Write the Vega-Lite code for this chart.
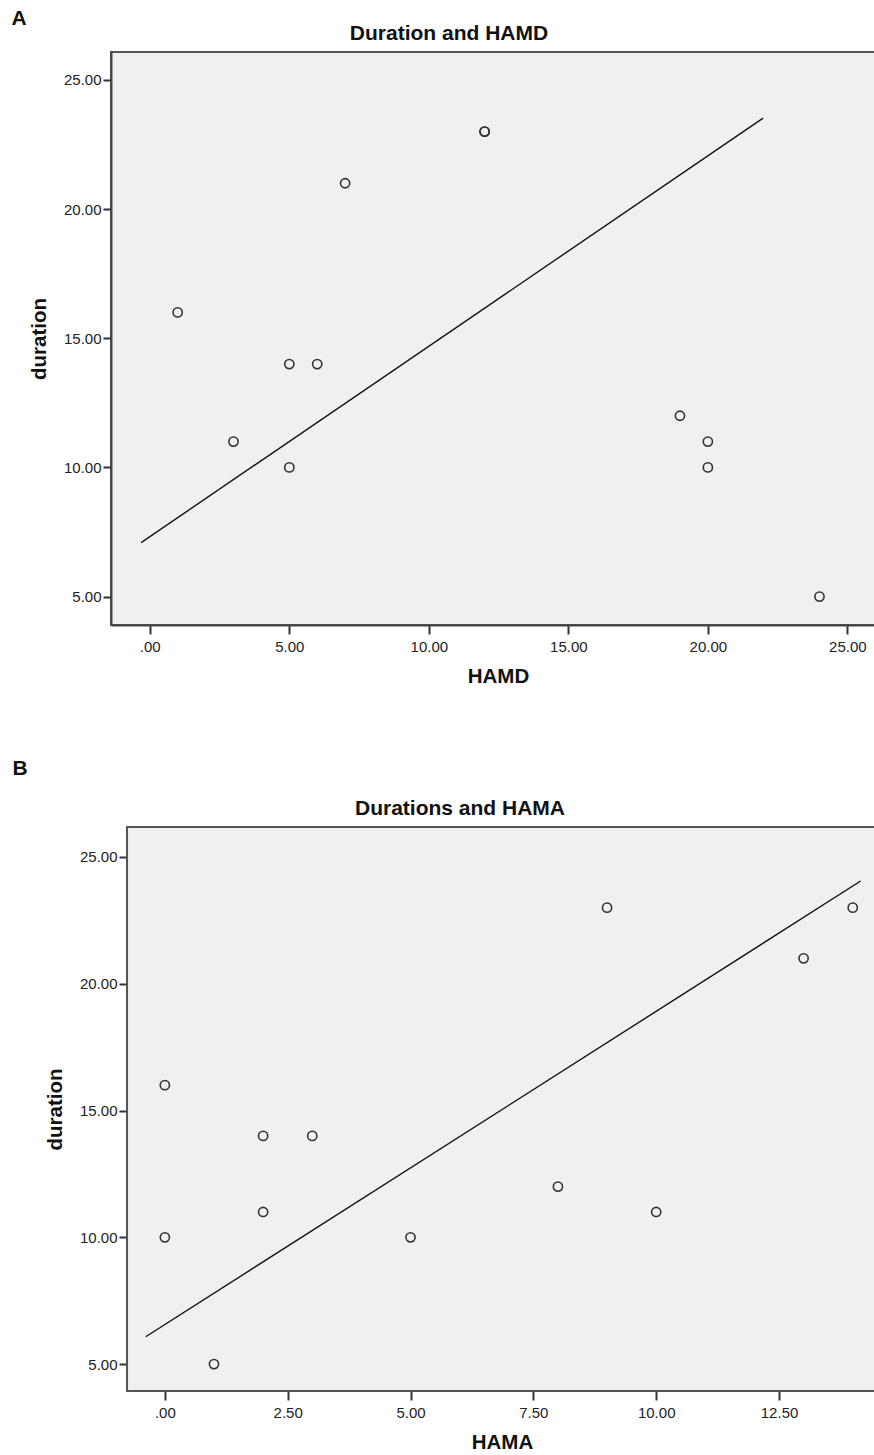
{
  "$schema": "https://vega.github.io/schema/vega-lite/v6.json",
  "padding": {"left": 11, "top": 8, "right": 0, "bottom": 0},
  "background": "white",
  "config": {
    "font": "Liberation Sans",
    "view": {"stroke": "#555555", "strokeWidth": 2, "fill": "#f0f0f0"},
    "axis": {
      "labelFont": "Liberation Sans", "labelFontSize": 15, "labelColor": "#222222",
      "titleFont": "Liberation Sans", "titleFontSize": 20.5, "titleFontWeight": "bold", "titleColor": "#111111",
      "domainColor": "#444444", "domainWidth": 2, "tickColor": "#333333", "tickWidth": 2, "tickSize": 8,
      "grid": false, "labelPadding": 2
    },
    "title": {"font": "Liberation Sans", "fontSize": 21, "fontWeight": "bold", "color": "#111111"}
  },
  "datasets": {
    "hamd": [
      {"HAMD": 1, "duration": 16}, {"HAMD": 3, "duration": 11}, {"HAMD": 5, "duration": 14},
      {"HAMD": 5, "duration": 10}, {"HAMD": 6, "duration": 14}, {"HAMD": 7, "duration": 21},
      {"HAMD": 12, "duration": 23}, {"HAMD": 12, "duration": 23}, {"HAMD": 19, "duration": 12},
      {"HAMD": 20, "duration": 11}, {"HAMD": 20, "duration": 10}, {"HAMD": 24, "duration": 5}
    ],
    "hamdFit": [
      {"HAMD": -0.31, "duration": 7.09}, {"HAMD": 21.98, "duration": 23.52}
    ],
    "hama": [
      {"HAMA": 0, "duration": 16}, {"HAMA": 0, "duration": 10}, {"HAMA": 1, "duration": 5},
      {"HAMA": 2, "duration": 14}, {"HAMA": 2, "duration": 11}, {"HAMA": 3, "duration": 14},
      {"HAMA": 5, "duration": 10}, {"HAMA": 8, "duration": 12}, {"HAMA": 9, "duration": 23},
      {"HAMA": 10, "duration": 11}, {"HAMA": 13, "duration": 21}, {"HAMA": 14, "duration": 23}
    ],
    "hamaFit": [
      {"HAMA": -0.39, "duration": 6.08}, {"HAMA": 14.16, "duration": 24.05}
    ],
    "panelB": [
      {"panel": "B"}
    ]
  },
  "spacing": 70,
  "vconcat": [
    {
      "title": {"text": "A", "anchor": "start", "frame": "bounds", "dx": -17, "offset": -7},
      "vconcat": [
        {
          "width": 800, "height": 573,
          "title": {"text": "Duration and HAMD", "dx": -62, "offset": 8},
          "encoding": {
            "x": {"field": "HAMD", "type": "quantitative",
                  "scale": {"domain": [-1.39, 27.28], "nice": false, "zero": false},
                  "axis": {"values": [0, 5, 10, 15, 20, 25], "titlePadding": 12, "tickSize": 9, "labelPadding": 5, "titleX": 387,
                           "labelExpr": "datum.value == 0 ? '.00' : format(datum.value, '.2f')"}},
            "y": {"field": "duration", "type": "quantitative",
                  "scale": {"domain": [3.9, 26.08], "nice": false, "zero": false},
                  "axis": {"values": [5, 10, 15, 20, 25], "titlePadding": 14, "format": ".2f"}}
          },
          "layer": [
            {"data": {"name": "hamdFit"}, "mark": {"type": "line", "color": "#111111", "strokeWidth": 1.4}},
            {"data": {"name": "hamd"}, "mark": {"type": "point", "shape": "circle", "filled": false, "color": "#333333", "strokeWidth": 1.6, "size": 85, "opacity": 1}}
          ]
        }
      ]
    },
    {
      "title": {"text": "B", "anchor": "start", "frame": "bounds", "dx": -33, "offset": 19},
      "vconcat": [
        {
          "width": 784, "height": 564,
          "view": {"stroke": null, "fill": null},
          "title": {"text": "Durations and HAMA", "dx": -43, "offset": 7},
          "layer": [
            {"data": {"name": "panelB"},
             "mark": {"type": "rect", "fill": "#f0f0f0", "stroke": "#555555", "strokeWidth": 2},
             "encoding": {
               "x": {"datum": -0.77, "type": "quantitative",
                     "scale": {"domain": [-1.096, 14.86], "nice": false, "zero": false},
                     "axis": {"values": [0, 2.5, 5, 7.5, 10, 12.5], "title": "HAMA", "titlePadding": 12, "tickSize": 9, "labelPadding": 5, "titleX": 391, "domain": false,
                              "labelExpr": "datum.value == 0 ? '.00' : format(datum.value, '.2f')"}},
               "x2": {"datum": 14.86},
               "y": {"datum": 3.94, "type": "quantitative",
                     "scale": {"domain": [3.94, 26.18], "nice": false, "zero": false},
                     "axis": {"values": [5, 10, 15, 20, 25], "title": "duration", "titlePadding": 14, "offset": -16, "format": ".2f"}},
               "y2": {"datum": 26.18}
             }},
            {"data": {"name": "hamaFit"}, "mark": {"type": "line", "color": "#111111", "strokeWidth": 1.4},
             "encoding": {"x": {"field": "HAMA", "type": "quantitative"}, "y": {"field": "duration", "type": "quantitative"}}},
            {"data": {"name": "hama"}, "mark": {"type": "point", "shape": "circle", "filled": false, "color": "#333333", "strokeWidth": 1.6, "size": 85, "opacity": 1},
             "encoding": {"x": {"field": "HAMA", "type": "quantitative"}, "y": {"field": "duration", "type": "quantitative"}}}
          ]
        }
      ]
    }
  ]
}
